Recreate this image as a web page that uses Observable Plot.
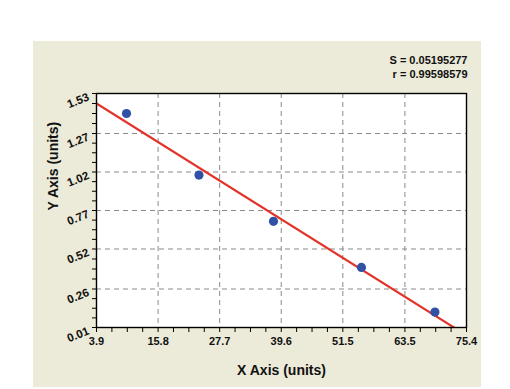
<!DOCTYPE html>
<html><head><meta charset="utf-8">
<script src="https://cdn.jsdelivr.net/npm/d3@7"></script>
<script src="https://cdn.jsdelivr.net/npm/@observablehq/plot@0.6"></script>
<style>
html,body{margin:0;padding:0;background:#fff;}
#wrap{position:relative;width:510px;height:389px;overflow:hidden;}
#panel{position:absolute;left:33px;top:41px;width:448px;height:346px;background:#ecead8;}
#chart{position:absolute;left:0;top:0;}
</style></head><body>
<div id="wrap"><div id="panel"></div><div id="chart"></div></div>
<script>
const xValues = [9.7, 23.7, 38.1, 55.1, 69.3];
const yValues = [1.40, 1.00, 0.70, 0.40, 0.11];
const xTicks = [3.9, 15.8, 27.7, 39.6, 51.5, 63.5, 75.4];
const yTicks = [0.01, 0.26, 0.52, 0.77, 1.02, 1.27, 1.53];
const statLines = ["S = 0.05195277", "r = 0.99598579"];
const xLabel = "X Axis (units)";
const yLabel = "Y Axis (units)";

const points = xValues.map((x, i) => ({x, y: yValues[i]}));
const mx = d3.mean(xValues), my = d3.mean(yValues);
const slope = d3.sum(xValues.map((x, i) => (x - mx) * (yValues[i] - my))) / d3.sum(xValues.map(x => (x - mx) ** 2));
const icpt = my - slope * mx;
const xDom = [xTicks[0], xTicks[xTicks.length - 1]];
const yDom = [yTicks[0], yTicks[yTicks.length - 1]];
const fit = xDom.map(x => ({x, y: icpt + slope * x}));
const minor = t => t.slice(1).flatMap((v, i) => [1, 2, 3].map(k => t[i] + (v - t[i]) * k / 4));

const chart = Plot.plot({
  width: 510, height: 389,
  marginLeft: 96, marginRight: 44, marginTop: 93, marginBottom: 62,
  style: {background: "transparent", fontFamily: "'Liberation Sans', Arial, sans-serif", fontWeight: "bold", fontSize: "11px", color: "#111"},
  x: {domain: xDom},
  y: {domain: yDom},
  marks: [
    Plot.frame({fill: "white"}),
    Plot.gridX({ticks: xTicks.slice(1, -1), stroke: "#8a8a8a", strokeOpacity: 1, strokeDasharray: "5,4"}),
    Plot.gridY({ticks: yTicks.slice(1, -1), stroke: "#8a8a8a", strokeOpacity: 1, strokeDasharray: "5,4"}),
    Plot.axisX({ticks: xTicks, tickSize: 5, tickPadding: 5, label: null, tickFormat: d => String(d), stroke: "#000", fontSize: 11, fontWeight: "bold"}),
    Plot.axisX({ticks: minor(xTicks), tickSize: 5, label: null, tickFormat: () => "", stroke: "#000"}),
    Plot.axisY({ticks: yTicks, tickSize: 4, label: null, tickFormat: () => "", stroke: "#000"}),
    Plot.axisY({ticks: minor(yTicks), tickSize: 4, label: null, tickFormat: () => "", stroke: "#000"}),
    Plot.text(yTicks, {y: d => d, text: d => d.toFixed(2), frameAnchor: "left", textAnchor: "end", rotate: -22, dx: -8, dy: 3, fill: "#111", fontSize: 11.5, fontWeight: "bold"}),
    Plot.line(fit, {x: "x", y: "y", stroke: "#e3342a", strokeWidth: 2.2, clip: true}),
    Plot.dot(points, {x: "x", y: "y", r: 4.6, fill: "#2f51a6", stroke: "none"}),
    Plot.frame({stroke: "#000", strokeWidth: 1.4}),
    Plot.text([statLines[0]], {frameAnchor: "top-right", textAnchor: "end", lineAnchor: "middle", dy: -33, dx: 1, fill: "#111", fontSize: 11, fontWeight: "bold"}),
    Plot.text([statLines[1]], {frameAnchor: "top-right", textAnchor: "end", lineAnchor: "middle", dy: -19, dx: 1, fill: "#111", fontSize: 11, fontWeight: "bold"}),
    Plot.text([xLabel], {frameAnchor: "bottom", lineAnchor: "middle", dy: 43, fontSize: 14, fontWeight: "bold", fill: "#111"}),
    Plot.text([yLabel], {frameAnchor: "left", lineAnchor: "middle", rotate: -90, dx: -43, fontSize: 14, fontWeight: "bold", fill: "#111"})
  ]
});
document.getElementById("chart").appendChild(chart);
</script>
</body></html>
